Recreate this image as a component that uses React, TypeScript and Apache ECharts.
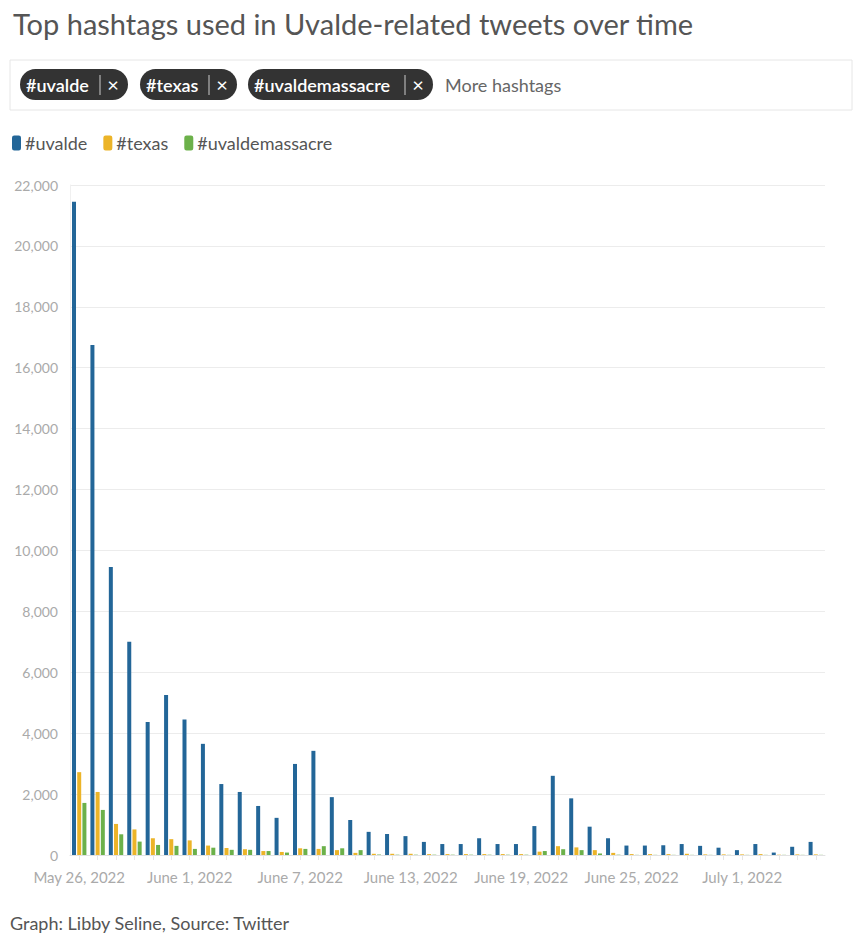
import React, { useEffect, useRef } from "react";
import * as echarts from "echarts";

const categories = [
  "May 26, 2022", "May 27, 2022", "May 28, 2022", "May 29, 2022", "May 30, 2022", "May 31, 2022",
  "June 1, 2022", "June 2, 2022", "June 3, 2022", "June 4, 2022", "June 5, 2022", "June 6, 2022",
  "June 7, 2022", "June 8, 2022", "June 9, 2022", "June 10, 2022", "June 11, 2022", "June 12, 2022",
  "June 13, 2022", "June 14, 2022", "June 15, 2022", "June 16, 2022", "June 17, 2022", "June 18, 2022",
  "June 19, 2022", "June 20, 2022", "June 21, 2022", "June 22, 2022", "June 23, 2022", "June 24, 2022",
  "June 25, 2022", "June 26, 2022", "June 27, 2022", "June 28, 2022", "June 29, 2022", "June 30, 2022",
  "July 1, 2022", "July 2, 2022", "July 3, 2022", "July 4, 2022", "July 5, 2022",
];

const uvalde = [
  21450, 16750, 9460, 7000, 4370, 5250, 4450, 3650, 2330, 2070, 1610, 1220, 2990, 3420, 1900, 1150,
  760, 690, 620, 430, 360, 360, 550, 360, 360, 950, 2600, 1860, 930, 550, 310, 310, 320, 360, 300,
  240, 160, 360, 80, 270, 430,
];

const texas = [
  2720, 2070, 1020, 840, 550, 520, 480, 310, 230, 190, 130, 100, 220, 200, 160, 70, 40, 40, 40, 30,
  30, 30, 30, 30, 30, 110, 290, 250, 160, 70, 30, 30, 30, 40, 20, 20, 20, 30, 10, 20, 20,
];

const uvaldemassacre = [
  1710, 1480, 680, 440, 330, 300, 200, 240, 170, 170, 130, 80, 200, 290, 220, 160, 15, 10, 10, 10,
  10, 10, 10, 10, 10, 130, 190, 160, 50, 10, 5, 5, 5, 5, 5, 5, 5, 5, 5, 5, 5,
];

const seriesNames = ["#uvalde", "#texas", "#uvaldemassacre"];
const colors = ["#236698", "#ecb428", "#6cb14a"];
const chips = ["#uvalde", "#texas", "#uvaldemassacre"];

const FONT = "Lato, 'Noto Sans', sans-serif";

export default function App() {
  const ref = useRef<HTMLDivElement>(null);
  useEffect(() => {
    if (!ref.current) return;
    const chart = echarts.init(ref.current, null, { renderer: "svg" });

    const chipX = [20, 140, 248];
    const chipW = [108, 97, 185];
    const chipEls: any[] = [];
    chips.forEach((c, i) => {
      const x = chipX[i];
      const w = chipW[i];
      chipEls.push({
        type: "rect",
        shape: { x, y: 69, width: w, height: 31, r: 15.5 },
        style: { fill: "#333333" },
      });
      chipEls.push({
        type: "text",
        x: x + 6,
        y: 85,
        style: {
          text: c,
          fill: "#ffffff",
          font: `600 18px ${FONT}`,
          textVerticalAlign: "middle",
        },
      });
      chipEls.push({
        type: "line",
        shape: { x1: x + w - 28, y1: 75, x2: x + w - 28, y2: 95 },
        style: { stroke: "#cccccc", lineWidth: 1 },
      });
      chipEls.push({
        type: "text",
        x: x + w - 15,
        y: 84,
        style: {
          text: "×",
          fill: "#ffffff",
          font: `20px ${FONT}`,
          textAlign: "center",
          textVerticalAlign: "middle",
        },
      });
    });

    const mk = (i: number, data: number[]) => ({
      name: seriesNames[i],
      type: "bar",
      data,
      barWidth: 4,
      barGap: "30%",
      itemStyle: { color: colors[i] },
    });

    chart.setOption({
      animation: false,
      textStyle: { fontFamily: FONT },
      title: {
        text: "Top hashtags used in Uvalde-related tweets over time",
        left: 8,
        top: 4,
        textStyle: { fontSize: 29, fontWeight: "normal", color: "#555555", fontFamily: FONT },
      },
      legend: {
        left: 7,
        top: 129,
        icon: "roundRect",
        itemWidth: 9,
        itemHeight: 15,
        itemGap: 16,
        textStyle: { fontSize: 18, color: "#555555", fontFamily: FONT, padding: [0, 0, 0, -1] },
        data: seriesNames,
      },
      grid: { left: 70, right: 28, top: 185, bottom: 79, containLabel: false },
      xAxis: {
        type: "category",
        data: categories,
        axisLine: { lineStyle: { color: "#e2e2e2" } },
        axisTick: { show: true, interval: 0, alignWithLabel: true, length: 5, lineStyle: { color: "#e6e6e6" } },
        axisLabel: {
          interval: 5,
          color: "#aaaaaa",
          fontSize: 15,
          margin: 14,
          fontFamily: FONT,
        },
      },
      yAxis: {
        type: "value",
        min: 0,
        max: 22000,
        interval: 2000,
        axisLine: { show: true, lineStyle: { color: "#f0f0f0" } },
        axisTick: { show: false },
        splitLine: { lineStyle: { color: "#ececec" } },
        axisLabel: {
          color: "#aaaaaa",
          fontSize: 14,
          margin: 12,
          fontFamily: FONT,
          formatter: (v: number) => v.toLocaleString("en-US"),
        },
      },
      series: [mk(0, uvalde), mk(1, texas), mk(2, uvaldemassacre)],
      graphic: [
        {
          type: "rect",
          shape: { x: 10, y: 60, width: 842, height: 50 },
          style: { fill: "#ffffff", stroke: "#e6e6e6", lineWidth: 1 },
        },
        ...chipEls,
        {
          type: "text",
          x: 445,
          y: 85,
          style: {
            text: "More hashtags",
            fill: "#666666",
            font: `18px ${FONT}`,
            textVerticalAlign: "middle",
          },
        },
        {
          type: "text",
          x: 10,
          y: 923,
          style: {
            text: "Graph: Libby Seline, Source: Twitter",
            fill: "#555555",
            font: `18px ${FONT}`,
            textVerticalAlign: "middle",
          },
        },
      ],
    });
    return () => chart.dispose();
  }, []);
  return (
    <div
      ref={ref}
      style={{ position: "fixed", left: 0, top: 0, width: 853, height: 934, background: "#ffffff" }}
    />
  );
}
